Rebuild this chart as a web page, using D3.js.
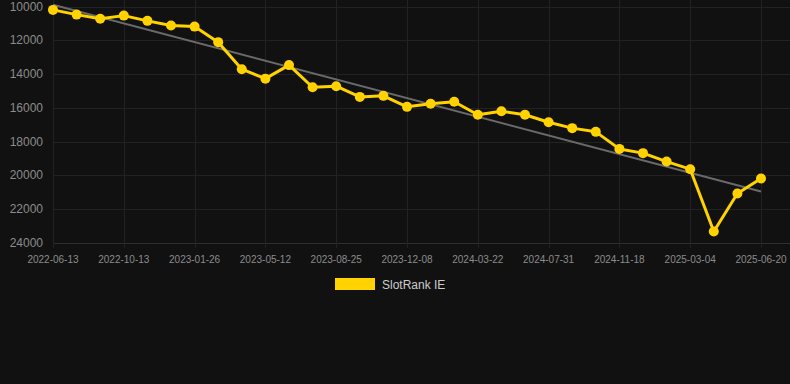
<!DOCTYPE html>
<html>
<head>
<meta charset="utf-8">
<script src="https://cdn.jsdelivr.net/npm/d3@7"></script>
<style>
  html, body { margin: 0; padding: 0; background: #111111; }
  svg { display: block; }
  text { font-family: "Liberation Sans", Arial, sans-serif; }
</style>
</head>
<body>
<div id="chart"></div>
<script>
// dates on the x axis, one per point
let dates = [
    "2022-06-13", "2022-07-24", "2022-09-02", "2022-10-13", "2022-11-17", "2022-12-22",
    "2023-01-26", "2023-03-02", "2023-04-06", "2023-05-12", "2023-06-16", "2023-07-21",
    "2023-08-25", "2023-09-29", "2023-11-03", "2023-12-08", "2024-01-12", "2024-02-16",
    "2024-03-22", "2024-05-04", "2024-06-17", "2024-07-31", "2024-09-06", "2024-10-12",
    "2024-11-18", "2024-12-23", "2025-01-27", "2025-03-04", "2025-04-09", "2025-05-15",
    "2025-06-20"
];

// rank values, SlotRank IE
let ranks = [
    10200, 10480, 10730, 10540, 10850, 11130, 11190, 12110, 13710, 14270, 13470,
    14780, 14720, 15350, 15290, 15940, 15760, 15640, 16410, 16200, 16410, 16850,
    17200, 17420, 18430, 18680, 19180, 19630, 23320, 21070, 20180
];

// trend line, first and last value
let trend = [9900, 20950];

let yTicks = [10000, 12000, 14000, 16000, 18000, 20000, 22000, 24000];
let seriesName = "SlotRank IE";

let width = 790, height = 384;
let margin = {top: 6.5, right: 29, bottom: 141, left: 53};

let svg = d3.select("#chart").append("svg")
    .attr("width", width).attr("height", height);

let x = d3.scalePoint().domain(dates).range([margin.left, width - margin.right]);
let y = d3.scaleLinear().domain([10000, 24000]).range([margin.top, height - margin.bottom]);

let tickDates = dates.filter(function(d, i) { return i % 3 === 0; });

// grid
svg.append("g").selectAll("line").data(yTicks).enter().append("line")
    .attr("x1", margin.left).attr("x2", width)
    .attr("y1", function(d) { return Math.round(y(d)) + 0.5; })
    .attr("y2", function(d) { return Math.round(y(d)) + 0.5; })
    .attr("stroke", function(d) { return d === 24000 ? "#2e2e2e" : "#222222"; })
    .attr("stroke-width", 1);

svg.append("g").selectAll("line").data(tickDates).enter().append("line")
    .attr("x1", function(d) { return Math.round(x(d)) + 0.5; })
    .attr("x2", function(d) { return Math.round(x(d)) + 0.5; })
    .attr("y1", 0).attr("y2", y(24000) + 5)
    .attr("stroke", "#222222").attr("stroke-width", 1);

// y labels
svg.append("g").selectAll("text").data(yTicks).enter().append("text")
    .attr("x", 43).attr("y", function(d) { return y(d) + 4; })
    .attr("text-anchor", "end").attr("fill", "#8c8c8c")
    .style("font-size", "12px")
    .text(function(d) { return d; });

// x labels
svg.append("g").selectAll("text").data(tickDates).enter().append("text")
    .attr("x", function(d) { return x(d); }).attr("y", 263)
    .attr("text-anchor", "middle").attr("fill", "#8c8c8c")
    .style("font-size", "10px")
    .text(function(d) { return d; });

// trend
svg.append("line")
    .attr("x1", x(dates[0])).attr("y1", y(trend[0]))
    .attr("x2", x(dates[dates.length - 1])).attr("y2", y(trend[1]))
    .attr("stroke", "#6a6a6a").attr("stroke-width", 2);

// series
let line = d3.line()
    .x(function(d, i) { return x(dates[i]); })
    .y(function(d) { return y(d); });

svg.append("path").datum(ranks)
    .attr("d", line).attr("fill", "none")
    .attr("stroke", "#ffd200").attr("stroke-width", 3)
    .attr("stroke-linejoin", "round");

svg.append("g").selectAll("circle").data(ranks).enter().append("circle")
    .attr("cx", function(d, i) { return x(dates[i]); })
    .attr("cy", function(d) { return y(d); })
    .attr("r", 5).attr("fill", "#ffd200");

// legend
let legend = svg.append("g").attr("transform", "translate(335,278)");
legend.append("rect").attr("width", 40).attr("height", 12).attr("fill", "#ffd200");
legend.append("text").attr("x", 47).attr("y", 11)
    .attr("fill", "#cccccc").style("font-size", "12px")
    .text(seriesName);
</script>
</body>
</html>
